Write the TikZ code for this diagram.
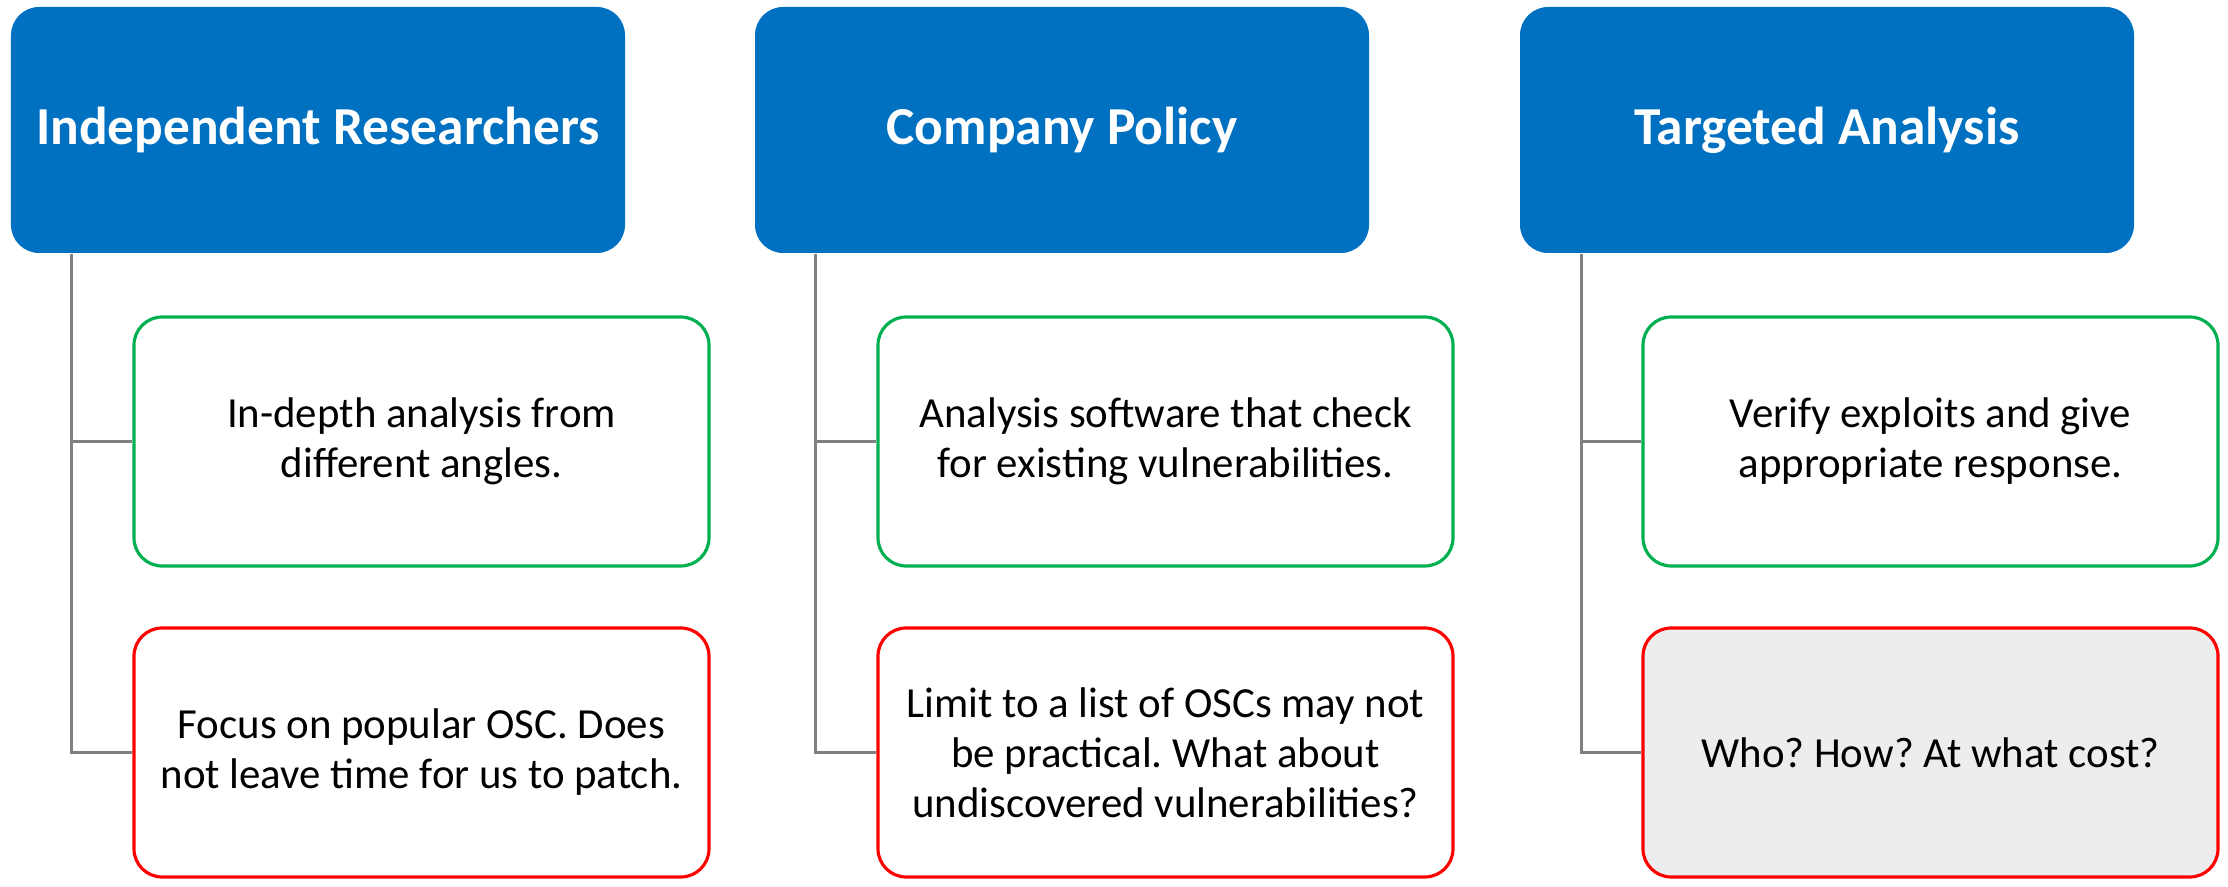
\documentclass[tikz,border=0pt]{standalone}
\usepackage{fontspec}
\setmainfont{Carlito}
\usetikzlibrary{positioning}
\usetikzlibrary{calc}
\usepackage{xcolor}
\definecolor{hdrblue}{RGB}{0,112,192}
\definecolor{okgreen}{RGB}{0,176,80}
\definecolor{badred}{RGB}{255,0,0}
\definecolor{linegray}{RGB}{128,128,128}
\definecolor{boxgray}{RGB}{237,237,237}
\frenchspacing

\tikzset{
	hdr/.style={fill=hdrblue, text=white, rounded corners=8pt, minimum width=6.14cm, minimum height=2.46cm, font=\fontsize{15.2}{18}\selectfont\bfseries, align=center},
	pro/.style={draw=okgreen, line width=0.9pt, fill=white, rounded corners=8pt, minimum width=5.75cm, minimum height=2.49cm, font=\fontsize{12.2}{14.2}\selectfont, align=center},
	con/.style={pro, draw=badred},
	conn/.style={draw=linegray, line width=0.7pt}
}

\begin{document}
\begin{tikzpicture}
			\useasboundingbox (0,0) rectangle (22.28,-8.87);
			\draw (3.18,-1.30)   node[hdr] (h1) {Independent Researchers}
			(10.62,-1.30) node[hdr] (h2) {Company Policy}
			(18.27,-1.30) node[hdr] (h3) {Targeted Analysis};
			
			\draw (4.215,-4.415)  node[pro] (g1) {In-depth analysis from\\different angles.}
			(11.655,-4.415) node[pro] (g2) {Analysis software that check\\for existing vulnerabilities.}
			(19.305,-4.415) node[pro] (g3) {Verify exploits and give\\appropriate response.}
			(4.215,-7.525)  node[con] (r1) {Focus on popular OSC. Does\\not leave time for us to patch.}
			(11.655,-7.525) node[con] (r2) {Limit to a list of OSCs may not\\be practical. What about\\undiscovered vulnerabilities?}
			(19.305,-7.525) node[con, fill=boxgray] (r3) {Who? How? At what cost?};
			
			\coordinate (t1) at ($(h1.south west)+(0.61,0)$);
			\coordinate (t2) at ($(h2.south west)+(0.61,0)$);
			\coordinate (t3) at ($(h3.south west)+(0.62,0)$);
			
			\draw[conn] (t1) |- (g1.west);
			\draw[conn] (t1) |- (r1.west);
			\draw[conn] (t2) |- (g2.west);
			\draw[conn] (t2) |- (r2.west);
			\draw[conn] (t3) |- (g3.west);
			\draw[conn] (t3) |- (r3.west);
		\end{tikzpicture}
\end{document}
